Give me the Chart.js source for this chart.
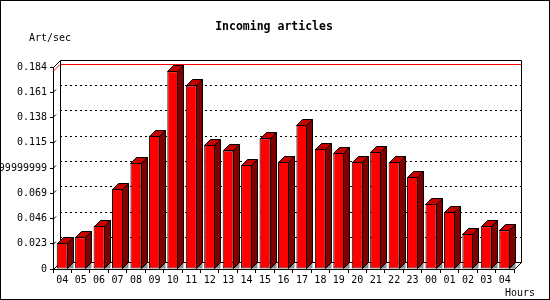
<!DOCTYPE html>
<html>
<head>
<meta charset="utf-8">
<script src="https://cdn.jsdelivr.net/npm/chart.js@4.4.0/dist/chart.umd.min.js"></script>
<style>
  body { margin: 0; background: #fff; }
  #chartdiv { width: 550px; height: 300px; }
</style>
</head>
<body>
<div id="chartdiv"><canvas id="myChart" width="550" height="300"></canvas></div>
<script>
var title = "Incoming articles";
var yTitle = "Art/sec";
var xTitle = "Hours";
var hours = ["04", "05", "06", "07", "08", "09", "10", "11", "12", "13", "14", "15", "16",
             "17", "18", "19", "20", "21", "22", "23", "00", "01", "02", "03", "04"];
var artPerSec = [0.0238, 0.029, 0.0393, 0.0732, 0.0967, 0.1214, 0.1801, 0.1672, 0.1132, 0.108,
                 0.0949, 0.119, 0.0976, 0.1315, 0.1095, 0.1059, 0.0976, 0.1068, 0.0976, 0.0839,
                 0.0595, 0.0519, 0.032, 0.039, 0.0354];
var yTickValues = [0, 0.023, 0.046, 0.069, 0.092, 0.115, 0.138, 0.161, 0.184];
var yTickLabels = ["0", "0.023", "0.046", "0.069", "0.09199999999999999", "0.115", "0.138", "0.161", "0.184"];

var mono = "'DejaVu Sans Mono', 'Liberation Mono', monospace";
var depth = 7;     // depth of the back wall
var barDepth = 6;  // depth of each bar

// back wall, grid, 3d axis lines, red max line
var wallPlugin = {
    id: 'wall',
    beforeDraw: function (chart) {
        var ctx = chart.ctx;
        ctx.save();
        ctx.fillStyle = '#fff';
        ctx.fillRect(0, 0, chart.width, chart.height);
        ctx.restore();
    },
    beforeDatasetsDraw: function (chart) {
        var ctx = chart.ctx;
        var xs = chart.scales.x, ys = chart.scales.y;
        var left = xs.left, right = xs.right;
        var top = ys.getPixelForValue(yTickValues[yTickValues.length - 1]);
        var base = ys.getPixelForValue(0);
        ctx.save();
        ctx.lineWidth = 1;
        ctx.strokeStyle = '#000';

        // dotted gridlines on the back wall
        ctx.setLineDash([2, 3]);
        for (var i = 1; i < yTickValues.length - 1; i++) {
            var gy = Math.round(ys.getPixelForValue(yTickValues[i]) - depth) + 0.5;
            ctx.beginPath();
            ctx.moveTo(left + depth, gy);
            ctx.lineTo(right + depth, gy);
            ctx.stroke();
        }
        ctx.setLineDash([]);

        // short depth marks at the y ticks
        for (var j = 1; j < yTickValues.length - 1; j++) {
            var ty = Math.round(ys.getPixelForValue(yTickValues[j])) + 0.5;
            ctx.beginPath();
            ctx.moveTo(left, ty);
            ctx.lineTo(left + 3, ty - 3);
            ctx.stroke();
        }

        // red line at the highest value
        var maxVal = Math.max.apply(null, artPerSec);
        var my = Math.round(ys.getPixelForValue(maxVal)) + 0.5;
        ctx.strokeStyle = '#ff0000';
        ctx.beginPath();
        ctx.moveTo(left, my);
        ctx.lineTo(left + depth, my - depth);
        ctx.lineTo(right + depth, my - depth);
        ctx.stroke();

        // wall outline
        ctx.strokeStyle = '#000';
        var t = Math.round(top) + 0.5, b = Math.round(base) + 0.5;
        var l = Math.round(left) + 0.5, r = Math.round(right) + 0.5;
        ctx.beginPath();
        ctx.moveTo(l, t);
        ctx.lineTo(l + depth, t - depth);
        ctx.lineTo(r + depth, t - depth);
        ctx.lineTo(r + depth, b - depth);
        ctx.lineTo(r, b);
        ctx.moveTo(l + depth, t - depth);
        ctx.lineTo(l + depth, b - depth);
        ctx.lineTo(r + depth, b - depth);
        ctx.moveTo(l, b);
        ctx.lineTo(l + depth, b - depth);
        ctx.stroke();
        ctx.restore();
    },
    afterDatasetsDraw: function (chart) {
        var ctx = chart.ctx;
        var meta = chart.getDatasetMeta(0);
        var d = barDepth;
        ctx.save();
        ctx.lineWidth = 1;
        ctx.strokeStyle = '#000';
        meta.data.forEach(function (bar) {
            var x1 = Math.round(bar.x - bar.width / 2) + 0.5;
            var x2 = Math.round(bar.x + bar.width / 2) - 0.5;
            var y = Math.round(bar.y) + 0.5;
            var b = Math.round(bar.base) - 0.5;
            // floor shadow
            ctx.fillStyle = '#8c8c8c';
            ctx.beginPath();
            ctx.moveTo(x2, b);
            ctx.lineTo(x2 + d, b - d);
            ctx.lineTo(x2 + d, b);
            ctx.closePath();
            ctx.fill();
            // side
            ctx.fillStyle = '#800000';
            ctx.beginPath();
            ctx.moveTo(x2, y);
            ctx.lineTo(x2 + d, y - d);
            ctx.lineTo(x2 + d, b - d);
            ctx.lineTo(x2, b);
            ctx.closePath();
            ctx.fill();
            ctx.stroke();
            // top
            ctx.fillStyle = '#c40000';
            ctx.beginPath();
            ctx.moveTo(x1, y);
            ctx.lineTo(x1 + d, y - d);
            ctx.lineTo(x2 + d, y - d);
            ctx.lineTo(x2, y);
            ctx.closePath();
            ctx.fill();
            ctx.stroke();
        });
        ctx.restore();
    },
    afterDraw: function (chart) {
        var ctx = chart.ctx;
        ctx.save();
        ctx.fillStyle = '#000';
        ctx.textBaseline = 'middle';
        ctx.textAlign = 'center';
        ctx.font = "bold 11.5px " + mono;
        ctx.fillText(title, 274, 27);
        ctx.textAlign = 'left';
        ctx.font = "10px " + mono;
        ctx.fillText(yTitle, 29, 38);
        ctx.fillText(xTitle, 505, 293);
        ctx.strokeStyle = '#000';
        ctx.lineWidth = 1;
        ctx.strokeRect(0.5, 0.5, chart.width - 1, chart.height - 1);
        ctx.restore();
    }
};

var ctx = document.getElementById('myChart').getContext('2d');
var myChart = new Chart(ctx, {
    type: 'bar',
    data: {
        labels: hours,
        datasets: [{
            label: 'Art/sec',
            data: artPerSec,
            backgroundColor: '#ff0000',
            borderColor: '#000',
            borderWidth: 1,
            borderSkipped: false,
            categoryPercentage: 1,
            barPercentage: 0.6
        }]
    },
    options: {
        responsive: false,
        animation: false,
        layout: { padding: { top: 67, right: 36, left: 0, bottom: 0 } },
        plugins: {
            legend: { display: false },
            title: { display: false },
            tooltip: { enabled: false }
        },
        scales: {
            x: {
                offset: true,
                afterFit: function (scale) { scale.height = 31; },
                grid: {
                    offset: true,
                    drawOnChartArea: false,
                    drawTicks: true,
                    tickLength: 4,
                    color: '#000'
                },
                border: { display: true, color: '#000' },
                ticks: {
                    color: '#000',
                    font: { family: mono, size: 10 },
                    maxRotation: 0,
                    autoSkip: false,
                    padding: 1
                }
            },
            y: {
                min: 0,
                max: 0.184,
                afterFit: function (scale) { scale.width = 53; },
                afterBuildTicks: function (scale) {
                    scale.ticks = yTickValues.map(function (v) { return { value: v }; });
                },
                grid: {
                    drawOnChartArea: false,
                    drawTicks: true,
                    tickLength: 3,
                    color: '#000'
                },
                border: { display: true, color: '#000' },
                ticks: {
                    color: '#000',
                    font: { family: mono, size: 10 },
                    padding: 3,
                    autoSkip: false,
                    callback: function (value, index) {
                        return yTickLabels[index];
                    }
                }
            }
        }
    },
    plugins: [wallPlugin]
});
</script>
</body>
</html>
